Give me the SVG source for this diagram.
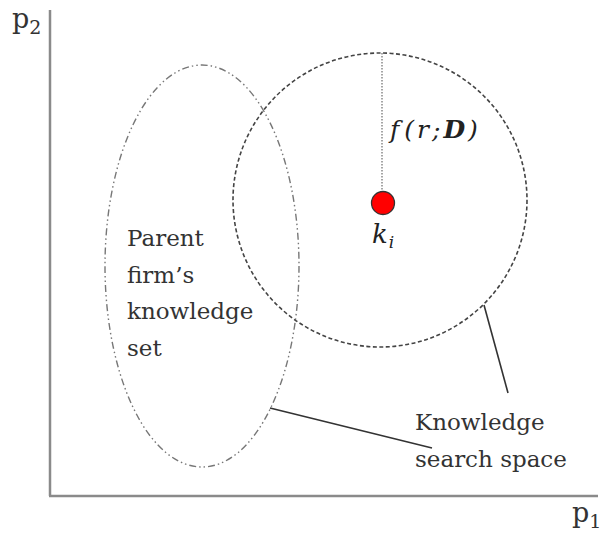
<svg xmlns="http://www.w3.org/2000/svg" width="605" height="537" viewBox="0 0 605 537">
<style>
.t{font-family:"DejaVu Serif","Liberation Serif",serif;font-size:23px;fill:#333}
.m{font-family:"DejaVu Serif","Liberation Serif",serif;font-style:italic;font-size:25px;fill:#222}
.ax{stroke:#8a8a8a;stroke-width:2.5;fill:none}
.ld{stroke:#333;stroke-width:1.6;fill:none}
</style>
<rect width="605" height="537" fill="#fff"/>
<g id="axes">
<line class="ax" x1="50" y1="10" x2="50" y2="496"/>
<line class="ax" x1="49" y1="496" x2="598" y2="496"/>
<text class="t" x="12" y="28" style="font-size:27px">p<tspan dy="6" style="font-size:19px">2</tspan></text>
<text class="t" x="572" y="522" style="font-size:27px">p<tspan dy="6" style="font-size:19px">1</tspan></text>
</g>
<g id="parent-set">
<ellipse cx="202" cy="266" rx="97" ry="201" fill="none" stroke="#777" stroke-width="1.4" stroke-dasharray="7 3 1.5 3 1.5 3"/>
<text class="t" x="127" y="246">Parent</text>
<text class="t" x="127" y="283">firm’s</text>
<text class="t" x="127" y="319">knowledge</text>
<text class="t" x="127" y="356">set</text>
</g>
<g id="search-space">
<circle cx="380" cy="200" r="147" fill="none" stroke="#444" stroke-width="1.6" stroke-dasharray="4 2.5"/>
<text class="t" x="415" y="430">Knowledge</text>
<text class="t" x="415" y="467">search space</text>
</g>
<g id="radius">
<line x1="382" y1="53" x2="382" y2="192" stroke="#888" stroke-width="1.5" stroke-dasharray="1.5 1.5"/>
<text class="m" x="390" y="138" style="letter-spacing:3px">f<tspan dx="2">(</tspan>r;<tspan style="font-weight:bold">D</tspan>)</text>
</g>
<g id="ki">
<circle cx="383" cy="203" r="11.5" fill="#f00" stroke="#333" stroke-width="1.3"/>
<text class="m" x="372" y="243" style="font-size:26px">k<tspan dx="1" dy="5" style="font-size:17px">i</tspan></text>
</g>
<g id="connectors">
<line class="ld" x1="484" y1="305" x2="508" y2="393"/>
<line class="ld" x1="270" y1="408" x2="432" y2="448"/>
</g>
</svg>
